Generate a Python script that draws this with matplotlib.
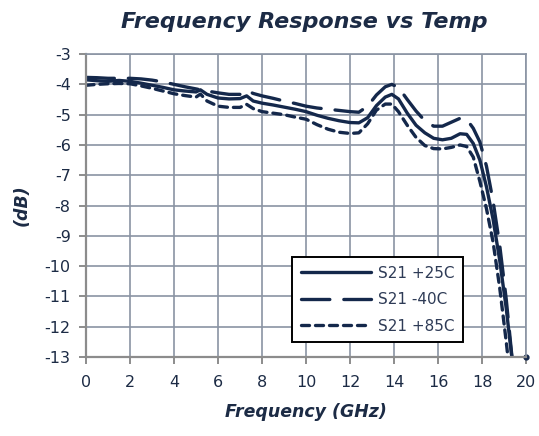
import matplotlib
matplotlib.use('Agg')
import matplotlib.pyplot as plt

# frequency points (GHz)
freq = [0, 0.5, 1, 1.5, 2, 2.5, 3, 3.5, 4, 4.5, 5, 5.2, 5.5, 6, 6.5, 7, 7.3, 7.6,
        8, 8.5, 9, 9.5, 10, 10.5, 11, 11.5, 12, 12.4, 12.8, 13.2, 13.6, 13.9,
        14.2, 14.6, 15, 15.4, 15.8, 16.2, 16.6, 17, 17.3, 17.6, 17.9, 18.2,
        18.5, 18.8, 19.1, 19.4]

s21_25c = [-3.85, -3.88, -3.9, -3.87, -3.9, -3.96, -4.03, -4.1, -4.18, -4.22,
           -4.25, -4.18, -4.33, -4.45, -4.48, -4.47, -4.38, -4.55, -4.62, -4.68,
           -4.75, -4.82, -4.9, -5.02, -5.12, -5.2, -5.26, -5.27, -5.1, -4.7,
           -4.42, -4.33, -4.48, -4.95, -5.35, -5.6, -5.78, -5.83, -5.78, -5.63,
           -5.65, -5.95, -6.5, -7.38, -8.45, -9.8, -11.4, -13.3]

s21_m40c = [-3.77, -3.78, -3.8, -3.8, -3.8, -3.82, -3.86, -3.92, -4.0, -4.08,
            -4.15, -4.18, -4.22, -4.28, -4.33, -4.33, -4.2, -4.3, -4.38, -4.46,
            -4.55, -4.63, -4.72, -4.78, -4.82, -4.86, -4.9, -4.92, -4.72, -4.35,
            -4.08, -4.0, -4.1, -4.5, -4.88, -5.2, -5.38, -5.38, -5.25, -5.12,
            -5.15, -5.45, -5.9, -6.7, -7.85, -9.3, -11.1, -13.3]

s21_85c = [-4.03, -4.0, -3.98, -3.97, -3.98, -4.05, -4.13, -4.22, -4.31, -4.37,
           -4.42, -4.32, -4.55, -4.72, -4.76, -4.76, -4.66, -4.8, -4.9, -4.95,
           -5.0, -5.08, -5.15, -5.33, -5.48, -5.58, -5.62, -5.6, -5.3, -4.85,
           -4.65, -4.65, -4.9, -5.35, -5.75, -6.02, -6.12, -6.13, -6.08, -6.0,
           -6.05, -6.4, -7.2, -8.1, -9.2, -10.7, -12.5, -14.5]

# lone point sitting on the bottom edge at 20 GHz
tail_f = [20.0]
tail_v = [-13.0]

x_ticks = list(range(0, 21, 2))
y_ticks = list(range(-13, -2))

navy = '#14284b'
text_col = '#1c2b45'
grid_col = '#8a94a3'

plt.rcParams['font.family'] = ['DejaVu Sans']
plt.rcParams['axes.unicode_minus'] = False

fig = plt.figure(figsize=(5.39, 4.36), dpi=100, facecolor='white')
ax = fig.add_axes([0.1596, 0.181, 0.8164, 0.695])

lw = 2.4
ax.plot(freq, s21_25c, color=navy, lw=lw, label='S21 +25C', solid_capstyle='round')
ax.plot(freq, s21_m40c, color=navy, lw=lw, dashes=(8.5, 4.2), label='S21 -40C',
        dash_capstyle='round')
ax.plot(freq, s21_85c, color=navy, lw=lw, dashes=(2.4, 1.8), label='S21 +85C',
        dash_capstyle='round')
ax.plot(tail_f, tail_v, 'o', color=navy, ms=3.5, clip_on=False)

ax.set_xlim(0, 20)
ax.set_ylim(-13, -3)
ax.set_xticks(x_ticks)
ax.set_yticks(y_ticks)
ax.grid(True, color=grid_col, lw=1.2)
ax.set_axisbelow(True)

for side in ['top', 'right']:
    ax.spines[side].set_color(grid_col)
    ax.spines[side].set_linewidth(1.2)
for side in ['left', 'bottom']:
    ax.spines[side].set_color('#8c8c8c')
    ax.spines[side].set_linewidth(1.6)

ax.tick_params(axis='both', direction='out', length=5, width=1.4, color='#8c8c8c',
               labelsize=11.5, labelcolor=text_col)
ax.tick_params(axis='x', pad=8)
ax.tick_params(axis='y', pad=6)

ax.set_xlabel('Frequency (GHz)', fontsize=12.5, fontweight='bold', fontstyle='italic',
              color=text_col, labelpad=9)
ax.set_ylabel('(dB)', fontsize=12.5, fontweight='bold', fontstyle='italic',
              color=text_col, labelpad=10)
fig.text(0.565, 0.95, 'Frequency Response vs Temp', fontsize=16, fontweight='bold',
         fontstyle='italic', color=text_col, ha='center', va='center')

leg = ax.legend(loc='lower right', bbox_to_anchor=(0.856, 0.05), fontsize=11,
                handlelength=4.6, handletextpad=0.45, frameon=True, fancybox=False,
                framealpha=1, edgecolor='black', borderpad=0.55, labelspacing=0.75,
                borderaxespad=0)
leg.get_frame().set_linewidth(1.4)
for t in leg.get_texts():
    t.set_color('#2e3b56')

plt.savefig('out.png', dpi=100, facecolor='white')
